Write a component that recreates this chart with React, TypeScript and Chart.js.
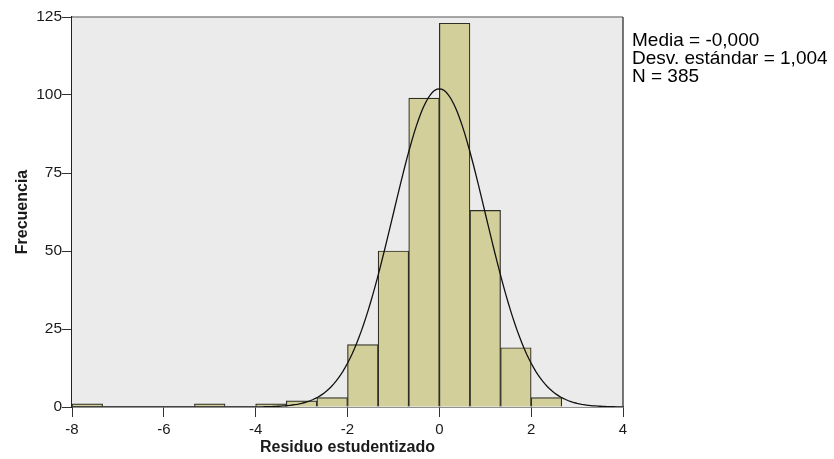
import React, { useEffect, useRef } from "react";
import { Chart, registerables } from "chart.js";

Chart.register(...registerables);

// Histogram bins (start of each bin, width 2/3)
const binWidth = 2 / 3;
const binStarts = [-8, -16 / 3, -4, -10 / 3, -8 / 3, -2, -4 / 3, -2 / 3, 0, 2 / 3, 4 / 3, 2];
const counts = [1, 1, 1, 2, 3, 20, 50, 99, 123, 63, 19, 3];

// Summary statistics shown in the legend
const mean = 0.0;
const stdDev = 1.004;
const nTotal = 385;
const legendLines = ["Media = -0,000", "Desv. estándar = 1,004", "N = 385"];

const xTicks = [-8, -6, -4, -2, 0, 2, 4];
const yTicks = [0, 25, 50, 75, 100, 125];

function normalCurve() {
  const pts: { x: number; y: number }[] = [];
  for (let i = 0; i <= 240; i++) {
    const x = -8 + i * 0.05;
    const z = (x - mean) / stdDev;
    const y = (nTotal * binWidth * Math.exp(-0.5 * z * z)) / (stdDev * Math.sqrt(2 * Math.PI));
    pts.push({ x, y });
  }
  return pts;
}

const frame = {
  id: "frame",
  beforeDatasetsDraw(chart: any) {
    const { ctx, chartArea: a } = chart;
    ctx.save();
    ctx.fillStyle = "#ebebeb";
    ctx.fillRect(a.left, a.top, a.right - a.left, a.bottom - a.top);
    ctx.restore();
  },
  afterDraw(chart: any) {
    const { ctx, chartArea: a } = chart;
    ctx.save();
    ctx.lineWidth = 1.5;
    ctx.strokeStyle = "#8a8a8a";
    ctx.beginPath();
    ctx.moveTo(a.left, a.top);
    ctx.lineTo(a.right, a.top);
    ctx.stroke();
    ctx.strokeStyle = "#4a4a4a";
    ctx.beginPath();
    ctx.moveTo(a.right, a.top);
    ctx.lineTo(a.right, a.bottom);
    ctx.stroke();
    ctx.restore();
  },
};

export default function App() {
  const ref = useRef<HTMLCanvasElement | null>(null);
  useEffect(() => {
    if (!ref.current) return;
    const barData = binStarts.map((s, i) => ({ x: s + binWidth / 2, y: counts[i] }));
    const chart = new Chart(ref.current, {
      type: "bar",
      data: {
        datasets: [
          {
            type: "line",
            data: normalCurve(),
            borderColor: "#111",
            borderWidth: 1.3,
            pointRadius: 0,
            fill: false,
            tension: 0,
            order: 0,
          } as any,
          {
            type: "bar",
            data: barData,
            backgroundColor: "#d3cf9b",
            borderColor: "#2e2e24",
            borderWidth: 1.2,
            barPercentage: 1,
            categoryPercentage: 1,
            order: 1,
          } as any,
        ],
      },
      options: {
        animation: false,
        responsive: false,
        maintainAspectRatio: false,
        layout: { padding: { left: 0, right: 211, top: 17, bottom: 0 } },
        plugins: { legend: { display: false }, tooltip: { enabled: false } },
        scales: {
          x: {
            type: "linear",
            min: -8,
            max: 4,
            offset: false,
            afterBuildTicks: (s: any) => {
              s.ticks = xTicks.map((v) => ({ value: v }));
            },
            afterFit: (s: any) => {
              s.height = 52;
            },
            grid: { display: true, drawOnChartArea: false, drawTicks: true, tickLength: 10, color: "#333", offset: false },
            border: { display: true, color: "#222", width: 1.5 },
            ticks: {
              padding: 4,
              color: "#1a1a1a",
              font: { family: "'Liberation Sans', Arial", size: 15 },
              maxRotation: 0,
              autoSkip: false,
            },
            title: {
              display: true,
              text: "Residuo estudentizado",
              color: "#1a1a1a",
              font: { family: "'Liberation Sans', Arial", size: 16, weight: "bold" },
              padding: { top: 0, bottom: 2 },
            },
          },
          y: {
            min: 0,
            max: 125,
            afterBuildTicks: (s: any) => {
              s.ticks = yTicks.map((v) => ({ value: v }));
            },
            afterFit: (s: any) => {
              s.width = 72;
            },
            grid: { display: true, drawOnChartArea: false, drawTicks: true, tickLength: 10, color: "#333" },
            border: { display: true, color: "#222", width: 1.5 },
            ticks: {
              padding: 0,
              color: "#1a1a1a",
              font: { family: "'Liberation Sans', Arial", size: 15.5 },
            },
            title: {
              display: true,
              text: "Frecuencia",
              color: "#1a1a1a",
              font: { family: "'Liberation Sans', Arial", size: 16, weight: "bold" },
              padding: { top: 13, bottom: 0 },
            },
          },
        },
      },
      plugins: [frame],
    });
    return () => chart.destroy();
  }, []);

  return (
    <div style={{ position: "fixed", left: 0, top: 0, width: 834, height: 459, background: "#fff" }}>
      <canvas ref={ref} width={834} height={459} style={{ width: 834, height: 459, display: "block" }} />
      <div
        style={{
          position: "absolute",
          left: 632,
          top: 31,
          fontFamily: "'Liberation Sans', Arial, sans-serif",
          fontSize: 19,
          lineHeight: "18px",
          color: "#000",
          whiteSpace: "nowrap",
        }}
      >
        {legendLines.map((t) => (
          <div key={t}>{t}</div>
        ))}
      </div>
    </div>
  );
}
